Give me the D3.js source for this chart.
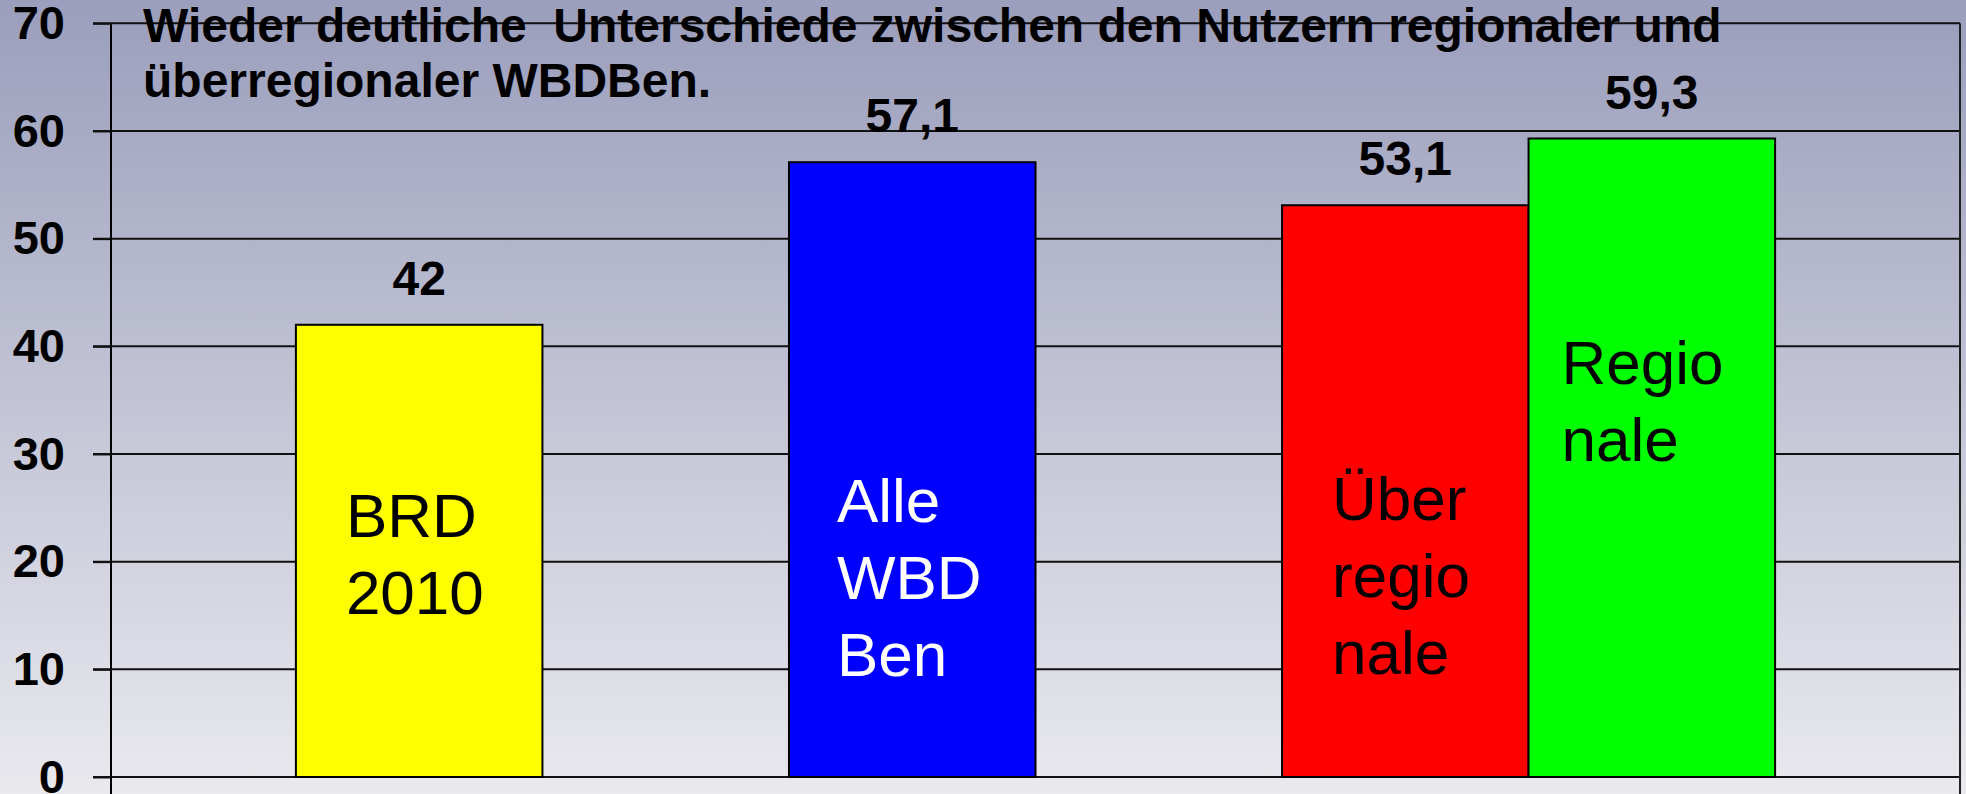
<!DOCTYPE html>
<html><head><meta charset="utf-8">
<script src="https://cdn.jsdelivr.net/npm/d3@7"></script>
<style>
html,body{margin:0;padding:0;overflow:hidden;background:#e8e8ee;}
svg{display:block;}
text{font-family:"Liberation Sans",Arial,"DejaVu Sans",sans-serif;}
</style></head>
<body>
<svg id="chart" width="1966" height="794"></svg>
<script>
// ---- data ----
const categories = ["BRD 2010", "Alle WBD Ben", "Über regio nale", "Regio nale"];
const values = [42, 57.1, 53.1, 59.3];
const valueLabels = ["42", "57,1", "53,1", "59,3"];
const barColors = ["#ffff00", "#0000ff", "#ff0000", "#00ff00"];
const barTextColors = ["#000000", "#ffffff", "#000000", "#000000"];
const barTextLines = [["BRD", "2010"], ["Alle", "WBD", "Ben"], ["Über", "regio", "nale"], ["Regio", "nale"]];
const yTicks = [0, 10, 20, 30, 40, 50, 60, 70];
const titleLines = ["Wieder deutliche  Unterschiede zwischen den Nutzern regionaler und", "überregionaler WBDBen."];

// ---- layout ----
const W = 1966, H = 794;
const plot = {left: 111, right: 1960, top: 23.3, bottom: 777};
const svg = d3.select("#chart");

const defs = svg.append("defs");
const grad = defs.append("linearGradient").attr("id", "bg").attr("x1", 0).attr("y1", 0).attr("x2", 0).attr("y2", 1);
grad.append("stop").attr("offset", "0%").attr("stop-color", "#9b9ebc");
grad.append("stop").attr("offset", "100%").attr("stop-color", "#e9e9ee");
svg.append("rect").attr("width", W).attr("height", H).attr("fill", "url(#bg)");

// slot domain: bars separated by empty slots
const slots = ["BRD 2010", "gap1", "Alle WBD Ben", "gap2", "Über regio nale", "Regio nale"];
const x = d3.scaleBand().domain(slots).range([plot.left, plot.right]).paddingInner(0).paddingOuter(0.75);
const y = d3.scaleLinear().domain([0, 70]).range([plot.bottom, plot.top]);

// gridlines
svg.append("g").selectAll("line").data(yTicks).join("line")
  .attr("x1", 93).attr("x2", plot.right)
  .attr("y1", d => y(d)).attr("y2", d => y(d))
  .attr("stroke", "#111").attr("stroke-width", 2);

// right border
svg.append("line").attr("x1", plot.right).attr("x2", plot.right)
  .attr("y1", plot.top).attr("y2", H).attr("stroke", "#222").attr("stroke-width", 2);

// title (drawn under the grid overlap look)
const title = svg.append("text").attr("font-weight", "bold").attr("font-size", 48)
  .attr("fill", "#000").style("white-space", "pre");
titleLines.forEach((t, i) => {
  title.append("tspan").attr("x", 143).attr("y", 42 + i * 55).text(t);
});

// y axis
const yAxis = d3.axisLeft(y).tickValues(yTicks).tickSize(18).tickPadding(28).tickFormat(d3.format("d"));
const ga = svg.append("g").attr("transform", `translate(${plot.left},0)`).call(yAxis);
ga.select(".domain").remove();
ga.selectAll(".tick line").attr("stroke", "#111").attr("stroke-width", 2);
ga.selectAll(".tick text").attr("font-size", 47).attr("font-weight", "bold").attr("fill", "#000")
  .attr("font-family", "'Liberation Sans',Arial,sans-serif");
svg.append("line").attr("x1", plot.left).attr("x2", plot.left).attr("y1", plot.top).attr("y2", H)
  .attr("stroke", "#000").attr("stroke-width", 2);

// bars
const bars = categories.map((c, i) => ({c, v: values[i], i}));
svg.append("g").selectAll("rect").data(bars).join("rect")
  .attr("x", d => x(d.c)).attr("width", x.bandwidth())
  .attr("y", d => y(d.v)).attr("height", d => y(0) - y(d.v))
  .attr("fill", d => barColors[d.i]).attr("stroke", "#000").attr("stroke-width", 2);

// value labels
svg.append("g").selectAll("text").data(bars).join("text")
  .attr("x", d => x(d.c) + x.bandwidth() / 2).attr("y", d => y(d.v) - 30)
  .attr("text-anchor", "middle").attr("font-size", 48).attr("font-weight", "bold").attr("fill", "#000")
  .text(d => valueLabels[d.i]);

// in-bar text boxes (first baseline in value units, indent in px)
const boxFirstBaseline = [22.3, 23.7, 23.9, 36.5];
const boxIndent = [50, 48, 50, 33];
bars.forEach(d => {
  const t = svg.append("text").attr("font-size", 62).attr("fill", barTextColors[d.i]);
  barTextLines[d.i].forEach((line, k) => {
    t.append("tspan").attr("x", x(d.c) + boxIndent[d.i]).attr("y", y(boxFirstBaseline[d.i]) + k * 77).text(line);
  });
});
</script>
</body></html>
